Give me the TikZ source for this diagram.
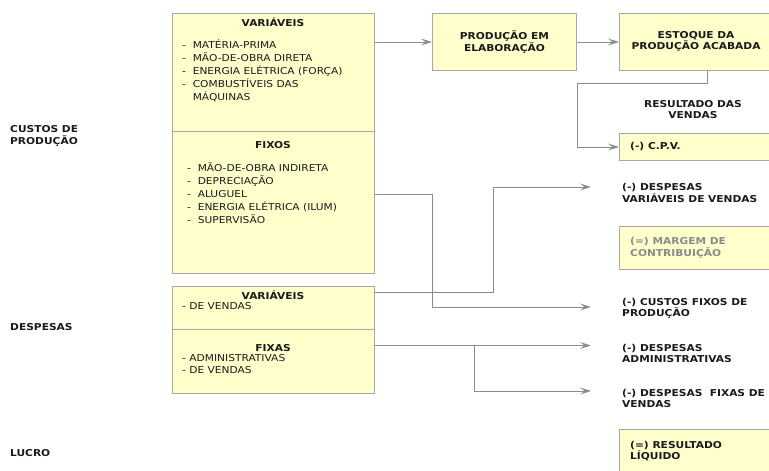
\documentclass[tikz,border=0pt]{standalone}
\usepackage{fontspec}
\setmainfont{DejaVu Sans}[FakeStretch=1.12]
\usetikzlibrary{arrows.meta,calc}
\definecolor{boxfill}{HTML}{FFFFCC}
\definecolor{boxline}{HTML}{A8A8A8}
\definecolor{linegray}{HTML}{8C8C8C}
\definecolor{txt}{HTML}{1A1A1A}
\definecolor{dimtxt}{HTML}{8A8A8A}
\begin{document}
\begin{tikzpicture}[x=1pt,y=-1pt,
  box/.style={draw=boxline,fill=boxfill,line width=1pt,inner sep=0pt,anchor=north west},
  head/.style={font=\fontsize{9.5}{11.5}\selectfont\bfseries,text=txt,align=center,inner sep=0pt},
  items/.style={font=\fontsize{9.5}{13}\selectfont,text=txt,align=left,inner sep=0pt,anchor=west},
  lbl/.style={font=\fontsize{9.5}{11.5}\selectfont\bfseries,text=txt,align=left,inner sep=0pt,anchor=west},
  arr/.style={draw=linegray,line width=1pt,-{Stealth[length=11pt,width=7pt,inset=4.5pt]}},
  ln/.style={draw=linegray,line width=1pt}]
\useasboundingbox (0,0) rectangle (769,471);
\clip (0,0) rectangle (769,471);
% boxes
\node[box,minimum width=202pt,minimum height=118pt] (cvar) at (172,13) {};
\node[box,minimum width=202pt,minimum height=142pt] (cfix) at (172,131) {};
\node[box,minimum width=202pt,minimum height=43pt] (dvar) at (172,286) {};
\node[box,minimum width=202pt,minimum height=64pt] (dfix) at (172,329) {};
\node[box,minimum width=144pt,minimum height=57pt] (prod) at (432,13) {};
\node[box,minimum width=154pt,minimum height=57pt] (est) at (619,13) {};
\node[box,minimum width=154pt,minimum height=27pt] (cpv) at (619,133) {};
\node[box,minimum width=154pt,minimum height=43pt] (marg) at (619,226) {};
\node[box,minimum width=154pt,minimum height=50pt] (res) at (619,429) {};
% box texts
\node[head] (cvarH) at (273,22) {VARIÁVEIS};
\node[items] (cvarI) at (182,70.5) {- \ MATÉRIA-PRIMA\\- \ MÃO-DE-OBRA DIRETA\\- \ ENERGIA ELÉTRICA (FORÇA)\\- \ COMBUSTÍVEIS DAS\\\hphantom{- \ }MÁQUINAS};
\node[head] (cfixH) at (273,145) {FIXOS};
\node[items] (cfixI) at (187,193) {- \ MÃO-DE-OBRA INDIRETA\\- \ DEPRECIAÇÃO\\- \ ALUGUEL\\- \ ENERGIA ELÉTRICA (ILUM)\\- \ SUPERVISÃO};
\node[head] (dvarH) at (273,295) {VARIÁVEIS};
\node[items] (dvarI) at (182,306) {- DE VENDAS};
\node[head] (dfixH) at (273,348) {FIXAS};
\node[items,font=\fontsize{9.5}{12}\selectfont] (dfixI) at (182,364) {- ADMINISTRATIVAS\\- DE VENDAS};
\node[head] (prodT) at (prod.center) {PRODUÇÃO EM\\ELABORAÇÃO};
\node[head] (estT) at (696,41.5) {ESTOQUE DA\\PRODUÇÃO ACABADA};
\node[lbl] (cpvT) at (630,147) {(-) C.P.V.};
\node[lbl,text=dimtxt] (margT) at (630,248) {(=) MARGEM DE\\CONTRIBUIÇÃO};
\node[lbl] (resT) at (630,451) {(=) RESULTADO\\LÍQUIDO};
% free texts
\node[head] (rv) at (693,109.5) {RESULTADO DAS\\VENDAS};
\node[lbl] (dvv) at (622,193) {(-) DESPESAS\\VARIÁVEIS DE VENDAS};
\node[lbl] (cfp) at (622,308.5) {(-) CUSTOS FIXOS DE\\PRODUÇÃO};
\node[lbl] (dadm) at (622,353.5) {(-) DESPESAS\\ADMINISTRATIVAS};
\node[lbl] (dfv) at (622,398.5) {(-) DESPESAS \ FIXAS DE\\VENDAS};
\node[lbl] (custos) at (10,136) {CUSTOS DE\\PRODUÇÃO};
\node[lbl] (desp) at (10,327) {DESPESAS};
\node[lbl] (lucro) at (10,453) {LUCRO};
% connectors
\coordinate (tipx) at (591,0);
\coordinate (j1) at (432,307);
\coordinate (j2) at (493,187);
\coordinate (j3) at (474,391);
\draw[arr] (cvar.east |- prod.west) -- (prod.west);
\draw[arr] (prod.east) -- (est.west);
\draw[arr] ([xshift=11pt]est.south) -- ++(0,12) -| ([xshift=-42pt]cpv.west) -- (cpv.west);
\draw[arr] ([yshift=8pt]cfix.east) -| (j1) -- (j1 -| tipx);
\draw[arr] ([yshift=15.5pt]dvar.east) -| (j2) -- (j2 -| tipx);
\draw[arr] ([yshift=16pt]dfix.east) coordinate (d1) -- (d1 -| tipx);
\draw[arr] (d1 -| j3) -- (j3) -- (j3 -| tipx);
\end{tikzpicture}
\end{document}
